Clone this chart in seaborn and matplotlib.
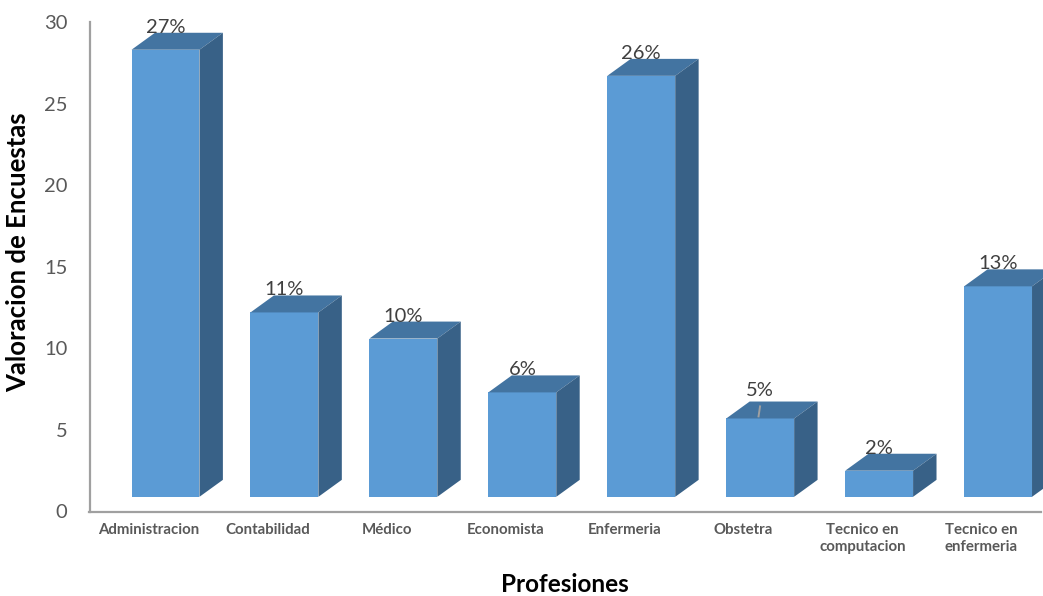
import matplotlib
matplotlib.use("Agg")
import matplotlib.pyplot as plt
from matplotlib.patches import Polygon
import seaborn as sns
import pandas as pd

# ---- data ----
categories = ["Administracion", "Contabilidad", "Médico", "Economista",
              "Enfermeria", "Obstetra", "Tecnico en\ncomputacion", "Tecnico en\nenfermeria"]
values = [28.3, 12.2, 10.6, 7.3, 26.7, 5.7, 2.5, 13.8]
pct_labels = ["27%", "11%", "10%", "6%", "26%", "5%", "2%", "13%"]
y_ticks = [0, 5, 10, 15, 20, 25, 30]

# ---- style ----
FLOOR = 0.9          # visual floor of the 3D bars
DX, DY = 0.197, 1.04  # depth offset of 3D faces (x in category units, y in data units)
BAR_W = 0.571
TICK_SHIFT = -0.139
FRONT = "#5B9BD5"
TOP = "#4374A1"
SIDE = "#386187"
AXIS_C = "#A0A0A0"
TXT_C = "#595959"

sns.set_theme(style="white")
plt.rcParams["font.family"] = ["Lato", "DejaVu Sans"]

df = pd.DataFrame({"cat": categories, "h": [v - FLOOR for v in values]})

fig = plt.figure(figsize=(10.43, 5.96), dpi=100)
ax = fig.add_axes([89.5 / 1043, 1 - 511.5 / 596, (1041 - 89.5) / 1043, (511.5 - 22) / 596])

sns.barplot(data=df, x="cat", y="h", color=FRONT, width=BAR_W, errorbar=None,
            bottom=FLOOR, linewidth=0, saturation=1, ax=ax)

extra = {5: 0.35}
for i, p in enumerate(list(ax.patches)):
    x0, w = p.get_x(), p.get_width()
    bot, top = p.get_y(), p.get_y() + p.get_height()
    topface = Polygon([(x0, top), (x0 + w, top), (x0 + w + DX, top + DY), (x0 + DX, top + DY)],
                      closed=True, facecolor=TOP, edgecolor="none", clip_on=False, zorder=3)
    side = Polygon([(x0 + w, bot), (x0 + w + DX, bot + DY), (x0 + w + DX, top + DY), (x0 + w, top)],
                   closed=True, facecolor=SIDE, edgecolor="none", clip_on=False, zorder=3)
    ax.add_patch(topface)
    ax.add_patch(side)
    cx = x0 + w / 2
    off = extra.get(i, 0.0)
    ax.text(cx, top + DY + off, pct_labels[i], ha="center", va="baseline",
            fontsize=14.5, color="#404040", zorder=5)
    if i in extra:
        ax.plot([cx, cx - 0.015], [top + 0.8, top + 0.07], color=AXIS_C, lw=1.4,
                zorder=6, solid_capstyle="butt")

ax.set_xlim(-0.5 + TICK_SHIFT, 7.5 + TICK_SHIFT)
ax.set_ylim(0, 30)
ax.set_yticks(y_ticks)
ax.set_xticks([i + TICK_SHIFT for i in range(len(categories))])
ax.set_xticklabels(categories, fontsize=10.8, fontweight="bold", color=TXT_C, linespacing=1.3)
ax.tick_params(axis="y", labelsize=14.5, labelcolor=TXT_C, length=0, pad=16)
ax.tick_params(axis="x", length=0, pad=8)

for s in ["top", "right"]:
    ax.spines[s].set_visible(False)
for s in ["left", "bottom"]:
    ax.spines[s].set_color(AXIS_C)
    ax.spines[s].set_linewidth(1.6)

ax.set_xlabel("Profesiones", fontsize=17.5, fontweight="bold", color="black", labelpad=14)
ax.set_ylabel("Valoracion de Encuestas", fontsize=18.5, fontweight="bold", color="black")
ax.yaxis.set_label_coords(-(89.5 - 30) / 951.5, (511.5 - 252) / 489.5)
ax.grid(False)

fig.savefig("out.png", dpi=100)
